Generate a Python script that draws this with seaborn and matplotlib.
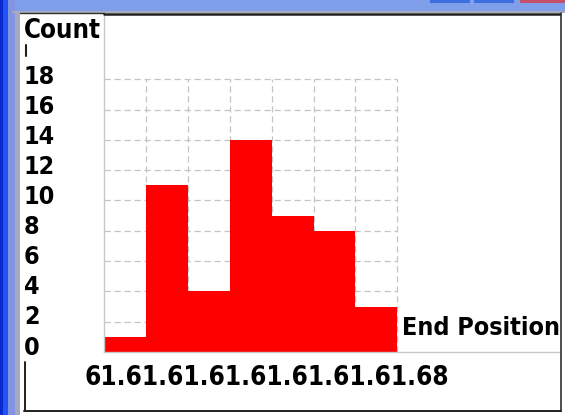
import numpy as np
import matplotlib
matplotlib.use("Agg")
import matplotlib.pyplot as plt
from matplotlib.patches import Rectangle
from matplotlib.lines import Line2D
import seaborn as sns

# ---- data ----
bin_edges = [61.61, 61.62, 61.63, 61.64, 61.65, 61.66, 61.67, 61.68]
counts = [1, 11, 4, 14, 9, 8, 3]
y_ticks = [0, 2, 4, 6, 8, 10, 12, 14, 16, 18]
x_tick_labels = ["61.61", "61.62", "61.63", "61.64", "61.65", "61.66", "61.67", "61.68"]
x_title = "End Position"
y_title = "Count"

sns.set_theme(style="white")
plt.rcParams["font.family"] = ["DejaVu Sans"]
plt.rcParams["text.color"] = "black"

W, H = 565, 415
fig = plt.figure(figsize=(W / 100, H / 100), dpi=100)
fig.patch.set_facecolor("white")


def fx(px):
    return px / W


def fy(py):
    return 1 - py / H


def frect(x0, y0, x1, y1, color, z=0):
    fig.patches.append(Rectangle((fx(x0), fy(y1)), fx(x1) - fx(x0), fy(y0) - fy(y1),
                                 transform=fig.transFigure, facecolor=color,
                                 edgecolor="none", zorder=z))


def fline(xs, ys, color, lw, z=5):
    fig.lines.append(Line2D([fx(v) for v in xs], [fy(v) for v in ys],
                            transform=fig.transFigure, color=color, lw=lw, zorder=z))


# window chrome
frect(0, 0, 565, 12, "#7f9fea")
frect(0, 0, 3, 415, "#0a2ad0")
frect(3, 0, 8, 415, "#1f55f2")
frect(8, 0, 15, 415, "#8395e2")
frect(15, 12, 20, 415, "#a4a9c4")
frect(12, 11, 565, 13, "#a8acbc")
frect(430, 0, 470, 3, "#3d6fe0")
frect(474, 0, 514, 3, "#3d6fe0")
frect(520, 0, 565, 3, "#c4506a")

# panel borders
fline([20, 104], [13.5, 13.5], "#303030", 1.0)
fline([104, 560], [14.5, 14.5], "#202020", 1.8)
fline([560.5, 560.5], [13, 410.5], "#303030", 1.2)
fline([24, 561], [410.5, 410.5], "#202020", 1.4)
fline([24.5, 24.5], [362, 410.5], "#202020", 1.4)
fline([26, 26], [45, 56], "#202020", 1.5)

# plot axes
left, right, top, bottom = 104, 560, 14, 352
ax = fig.add_axes([fx(left), fy(bottom), fx(right) - fx(left), fy(top) - fy(bottom)])
ax.set_facecolor("white")
px_per_bin = 41.9
px_per_unit = 15.15
xmin = bin_edges[0]
step = bin_edges[1] - bin_edges[0]
xmax = xmin + step * (right - left) / px_per_bin
ymax = (bottom - top) / px_per_unit
ax.set_xlim(xmin, xmax)
ax.set_ylim(0, ymax)

# grid (dashed, only over the binned area)
for v in y_ticks[1:]:
    ax.plot([bin_edges[0], bin_edges[-1]], [v, v], color="#c4c4c4", lw=0.9,
            dashes=(5, 3), zorder=0)
for e in bin_edges[1:]:
    ax.plot([e, e], [0, y_ticks[-1]], color="#c4c4c4", lw=0.9, dashes=(5, 3), zorder=0)

centers = [(a + b) / 2 for a, b in zip(bin_edges[:-1], bin_edges[1:])]
sns.histplot(x=centers, weights=counts, bins=bin_edges, color="#ff0000", alpha=1,
             linewidth=0, ax=ax, zorder=2)

ax.set_xlabel("")
ax.set_ylabel("")
ax.set_xticks([])
ax.set_yticks([])
for s in ["top", "right"]:
    ax.spines[s].set_visible(False)
ax.spines["left"].set_color("#c8c8c8")
ax.spines["left"].set_linewidth(1.0)
ax.spines["bottom"].set_color("#c8c8c8")
ax.spines["bottom"].set_linewidth(1.0)

tk = dict(fontweight="bold", fontstretch="condensed", color="black")
# x title
ax.text(bin_edges[-1] + step * (5 / px_per_bin), 24 / px_per_unit, x_title,
        fontsize=18, ha="left", va="center", clip_on=True, **tk)

# y title and tick labels (left panel)
fig.text(fx(24), fy(31), y_title, fontsize=18.5, ha="left", va="center", **tk)
for v in y_ticks:
    fig.text(fx(24), fy(bottom - v * 15.03 - 4.5), str(v), fontsize=18,
             ha="left", va="center", **tk)

# overlapping x tick labels, as they appear
xlabel_str = "".join(l[:3] for l in x_tick_labels[:-1]) + x_tick_labels[-1]
fig.text(fx(85), fy(378), xlabel_str, fontsize=18.7, ha="left", va="center", **tk)

fig.savefig("out.png", dpi=100)
